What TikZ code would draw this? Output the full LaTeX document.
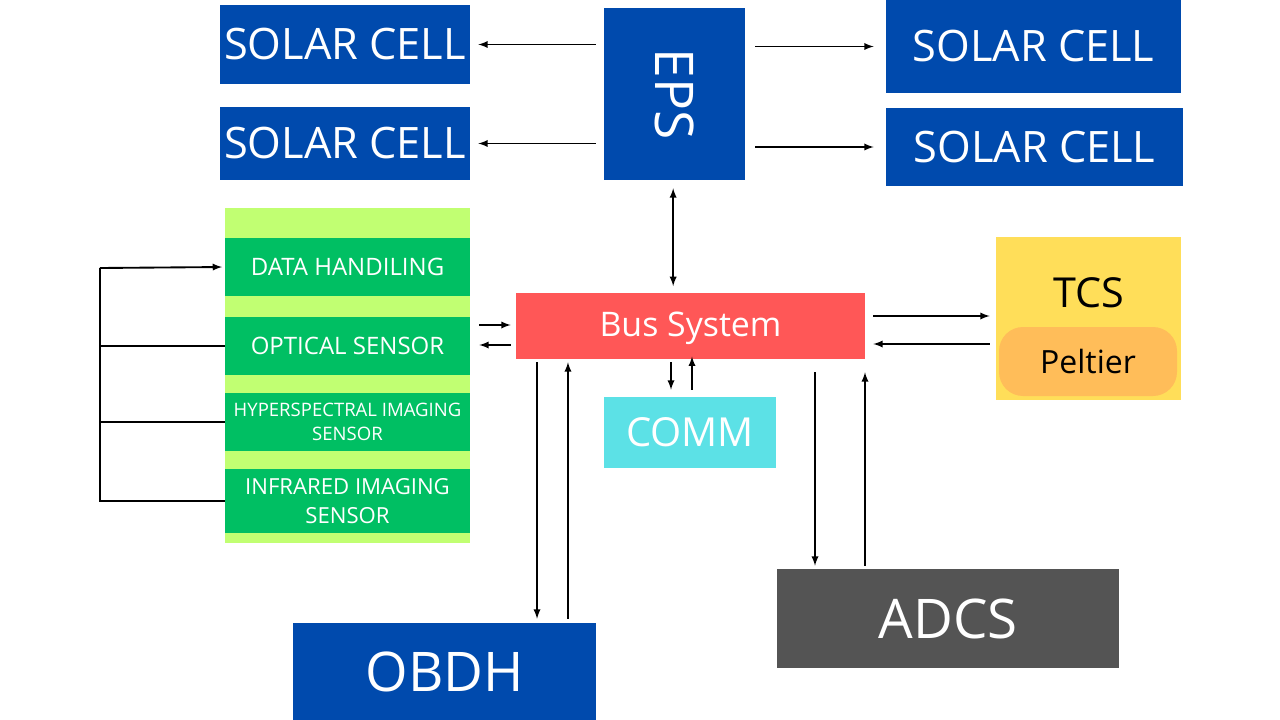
\documentclass[tikz,border=0pt]{standalone}
\usepackage{fontspec}
\setmainfont{Open Sans}
\definecolor{epsblue}{HTML}{004AAD}
\definecolor{busred}{HTML}{FF5757}
\definecolor{commcyan}{HTML}{5CE1E6}
\definecolor{tcsyellow}{HTML}{FFDE59}
\definecolor{peltorange}{HTML}{FFBD59}
\definecolor{payload}{HTML}{C1FF72}
\definecolor{sensgreen}{HTML}{00BF63}
\definecolor{adcsgrey}{HTML}{545454}
\newcommand{\fs}[1]{\fontsize{#1}{1.2\dimexpr#1\relax}\selectfont}
\begin{document}
\begin{tikzpicture}[x=0.75pt,y=-0.75pt,
    blk/.style={inner sep=0pt,text=white,align=center},
    solar/.style={blk,fill=epsblue,minimum width=187.5pt,font=\fs{32.5pt}},
    sens/.style={blk,fill=sensgreen,minimum width=183.75pt,minimum height=43.5pt,font=\fs{18pt}},
    link/.style={->,>=latex,line width=1.4pt}]
                \useasboundingbox (0,0) rectangle (1280,720);
                \node[solar,minimum height=59.25pt](SOL1) at (345,44.5) {SOLAR CELL};
                \node[solar,minimum height=54.75pt](SOL2) at (345,143.5) {SOLAR CELL};
                \node[solar,minimum width=221.25pt,minimum height=69.75pt](SOL3) at (1033.5,46.5) {SOLAR CELL};
                \node[solar,minimum width=222.75pt,minimum height=58.5pt](SOL4) at (1034.5,147) {SOLAR CELL};
                \node[blk,fill=epsblue,minimum width=105.75pt,minimum height=129pt,font=\fs{40pt}](EPS) at (674.5,94) {\rotatebox{-90}{EPS}};
                \node[fill=payload,minimum width=183.75pt,minimum height=251.25pt,inner sep=0pt](PAY) at (347.5,375.5) {};
                \node[sens](DATA) at (347.5,267) {DATA HANDILING};
                \node[sens](OPT) at (347.5,346) {OPTICAL SENSOR};
                \node[sens,font=\fontsize{13.9pt}{18pt}\selectfont](HYP) at (347.5,422) {HYPERSPECTRAL IMAGING\\SENSOR};
                \node[sens,minimum height=48pt,font=\fontsize{16.6pt}{22pt}\selectfont](IR) at (347.5,501) {INFRARED IMAGING\\SENSOR};
                \node[blk,fill=busred,minimum width=261.75pt,minimum height=49.5pt,font=\fs{25.4pt},text depth=3pt](BUS) at (690.5,326) {Bus System};
                \node[blk,fill=commcyan,minimum width=129pt,minimum height=53.25pt,font=\fs{30pt}](COMM) at (690,432.5) {COMM};
                \node[blk,fill=tcsyellow,minimum width=138.75pt,minimum height=122.25pt,
                      label={[anchor=center,yshift=-42pt,font=\fs{31pt}]north:TCS}](TCS) at (1088.5,318.5) {};
                \node[blk,text=black,fill=peltorange,rounded corners=18pt,minimum width=133.5pt,minimum height=51.75pt,font=\fs{24pt}](PELT) at (1088,361.5) {Peltier};
                \node[blk,fill=epsblue,minimum width=227.25pt,minimum height=72.75pt,font=\fs{41pt}](OBDH) at (444.5,671.5) {OBDH};
                \node[blk,fill=adcsgrey,minimum width=256.5pt,minimum height=74.25pt,font=\fs{41pt}](ADCS) at (948,618.5) {ADCS};
                \coordinate (BRK) at (100,268);
                % power lines
                \draw[link,shorten <=6pt,shorten >=6pt] (EPS.west |- SOL1) -- (SOL1.east);
                \draw[link,shorten <=6pt,shorten >=6pt] (EPS.west |- SOL2) -- (SOL2.east);
                \draw[link,shorten <=7.5pt,shorten >=9pt] (EPS.east |- SOL3) -- (SOL3.west);
                \draw[link,shorten <=7.5pt,shorten >=9pt] (EPS.east |- SOL4) -- (SOL4.west);
                \draw[link,<->,shorten <=6pt,shorten >=5pt] ([xshift=-1pt]EPS.south) -- ([xshift=-1pt]EPS.south |- BUS.north);
                % bus links
                \draw[link,shorten <=6.75pt,shorten >=3.75pt] ([yshift=0.75pt]BUS.west -| PAY.east) -- ([yshift=0.75pt]BUS.west);
                \draw[link,shorten <=3.75pt,shorten >=6.75pt] ([yshift=-14.25pt]BUS.west) -- ([yshift=-14.25pt]BUS.west -| PAY.east);
                \draw[link,shorten <=6pt,shorten >=4.5pt] ([yshift=7.5pt]BUS.east) -- ([yshift=7.5pt]BUS.east -| TCS.west);
                \draw[link,shorten <=4.5pt,shorten >=6pt] ([yshift=-13.5pt]BUS.east -| TCS.west) -- ([yshift=-13.5pt]BUS.east);
                \draw[link,shorten <=2.25pt,shorten >=5.25pt] ([xshift=-14.25pt]COMM.north |- BUS.south) -- ([xshift=-14.25pt]COMM.north);
                \draw[link,shorten <=5.25pt,shorten >=-2pt] ([xshift=1.5pt]COMM.north) -- ([xshift=1.5pt]COMM.north |- BUS.south);
                \draw[link,shorten <=2.25pt,shorten >=3pt] ([xshift=69.4pt]OBDH.north |- BUS.south) -- ([xshift=69.4pt]OBDH.north);
                \draw[link,shorten <=3pt,shorten >=2.25pt] ([xshift=92.6pt]OBDH.north) -- ([xshift=92.6pt]OBDH.north |- BUS.south);
                \draw[link,shorten <=9.75pt,shorten >=2.25pt] ([xshift=-99.75pt]ADCS.north |- BUS.south) -- ([xshift=-99.75pt]ADCS.north);
                \draw[link,shorten <=2.25pt,shorten >=9.75pt] ([xshift=-62.25pt]ADCS.north) -- ([xshift=-62.25pt]ADCS.north |- BUS.south);
                % sensor bracket
                \draw[line width=1.4pt] (IR.west) -- (BRK |- IR.west) -- (BRK);
                \draw[line width=1.4pt] (OPT.west) -- (BRK |- OPT.west);
                \draw[line width=1.4pt] (HYP.west) -- (BRK |- HYP.west);
                \draw[link,shorten >=2pt] (BRK) -- (DATA.west);
            \end{tikzpicture}
\end{document}
